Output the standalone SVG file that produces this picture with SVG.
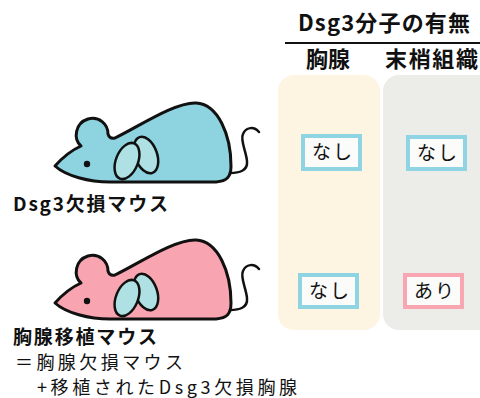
<svg xmlns="http://www.w3.org/2000/svg" xmlns:xlink="http://www.w3.org/1999/xlink" width="480" height="398" viewBox="0 0 480 398">
  <style>
    text { font-family: "Noto Sans CJK JP", "Noto Sans", sans-serif; fill: #111; }
    .head { font-size: 22px; font-weight: 700; }
    .label { font-size: 19px; font-weight: 700; }
    .note { font-size: 18px; }
    .cell { font-size: 19px; text-anchor: middle; letter-spacing: 2px; }
    .outline { stroke: #111; stroke-width: 3; stroke-linejoin: round; }
    .tail { fill: none; stroke: #111; stroke-width: 2.5; stroke-linecap: round; }
    .lobe { fill: #aee0e4; stroke: #111; stroke-width: 2.5; }
    .box { fill: #fbfbf9; stroke-width: 4; }
    .no { stroke: #8ed4e2; }
    .yes { stroke: #f7a6b2; }
  </style>
  <defs>
    <!-- mouse silhouette, fill comes from the <use> element -->
    <path id="mouse-body" d="M 55,166 C 63,157 72,150 81,146 C 73,139 75,123 88,119 C 99,116 108,124 108,134 C 109,137 111,139 115,138 C 138,127 175,102 196,103 C 218,104 231,135 231,166 C 231,177 227,181 216,182 L 110,182 C 89,182 66,176 55,166 Z"/>
    <g id="mouse-details">
      <path class="tail" d="M 230,173 C 239,173 248,171 247,161 C 246,151 240,140 243,134 C 246,127 254,126 259,132"/>
      <circle cx="87" cy="164" r="3.2" fill="#111"/>
      <ellipse class="lobe" cx="0" cy="0" rx="11" ry="19" transform="translate(146,155) rotate(-20)"/>
      <ellipse class="lobe" cx="0" cy="0" rx="11" ry="19" transform="translate(127,161) rotate(22)"/>
    </g>
  </defs>

  <!-- column header -->
  <g id="header">
    <text class="head" x="298" y="31" textLength="172" lengthAdjust="spacing">Dsg3分子の有無</text>
    <line x1="285" y1="43" x2="480" y2="43" stroke="#111" stroke-width="2"/>
    <text class="head" x="306" y="67" textLength="44" lengthAdjust="spacing">胸腺</text>
    <text class="head" x="385" y="67" textLength="93" lengthAdjust="spacing">末梢組織</text>
  </g>

  <!-- column backgrounds -->
  <g id="col-thymus">
    <rect x="278" y="75" width="102" height="255" rx="16" fill="#fdf5e2"/>
  </g>
  <g id="col-periphery">
    <rect x="383" y="75" width="110" height="255" rx="16" fill="#ecede8"/>
  </g>

  <!-- Dsg3 knockout mouse -->
  <g id="mouse-ko">
    <use xlink:href="#mouse-body" class="outline" fill="#8dd3e0"/>
    <use xlink:href="#mouse-details"/>
    <text class="label" x="13" y="211" textLength="155" lengthAdjust="spacing">Dsg3欠損マウス</text>
  </g>

  <!-- thymus-transplanted mouse -->
  <g id="mouse-tx">
    <g transform="translate(0,137)">
      <use xlink:href="#mouse-body" class="outline" fill="#f9a5b1"/>
      <use xlink:href="#mouse-details"/>
    </g>
    <text class="label" x="13" y="344" textLength="144" lengthAdjust="spacing">胸腺移植マウス</text>
    <text class="note" x="15" y="369" textLength="168" lengthAdjust="spacing">＝胸腺欠損マウス</text>
    <text class="note" x="37" y="394" textLength="260" lengthAdjust="spacing">+移植されたDsg3欠損胸腺</text>
  </g>

  <!-- result cells -->
  <g id="cell-ko-thymus">
    <rect class="box no" x="303" y="136" width="57" height="33"/>
    <text class="cell" x="333" y="159">なし</text>
  </g>
  <g id="cell-ko-periphery">
    <rect class="box no" x="408" y="137" width="57" height="32"/>
    <text class="cell" x="438" y="160">なし</text>
  </g>
  <g id="cell-tx-thymus">
    <rect class="box no" x="300" y="275" width="57" height="32"/>
    <text class="cell" x="330" y="298">なし</text>
  </g>
  <g id="cell-tx-periphery">
    <rect class="box yes" x="405" y="275" width="57" height="32"/>
    <text class="cell" x="435" y="298">あり</text>
  </g>
</svg>
